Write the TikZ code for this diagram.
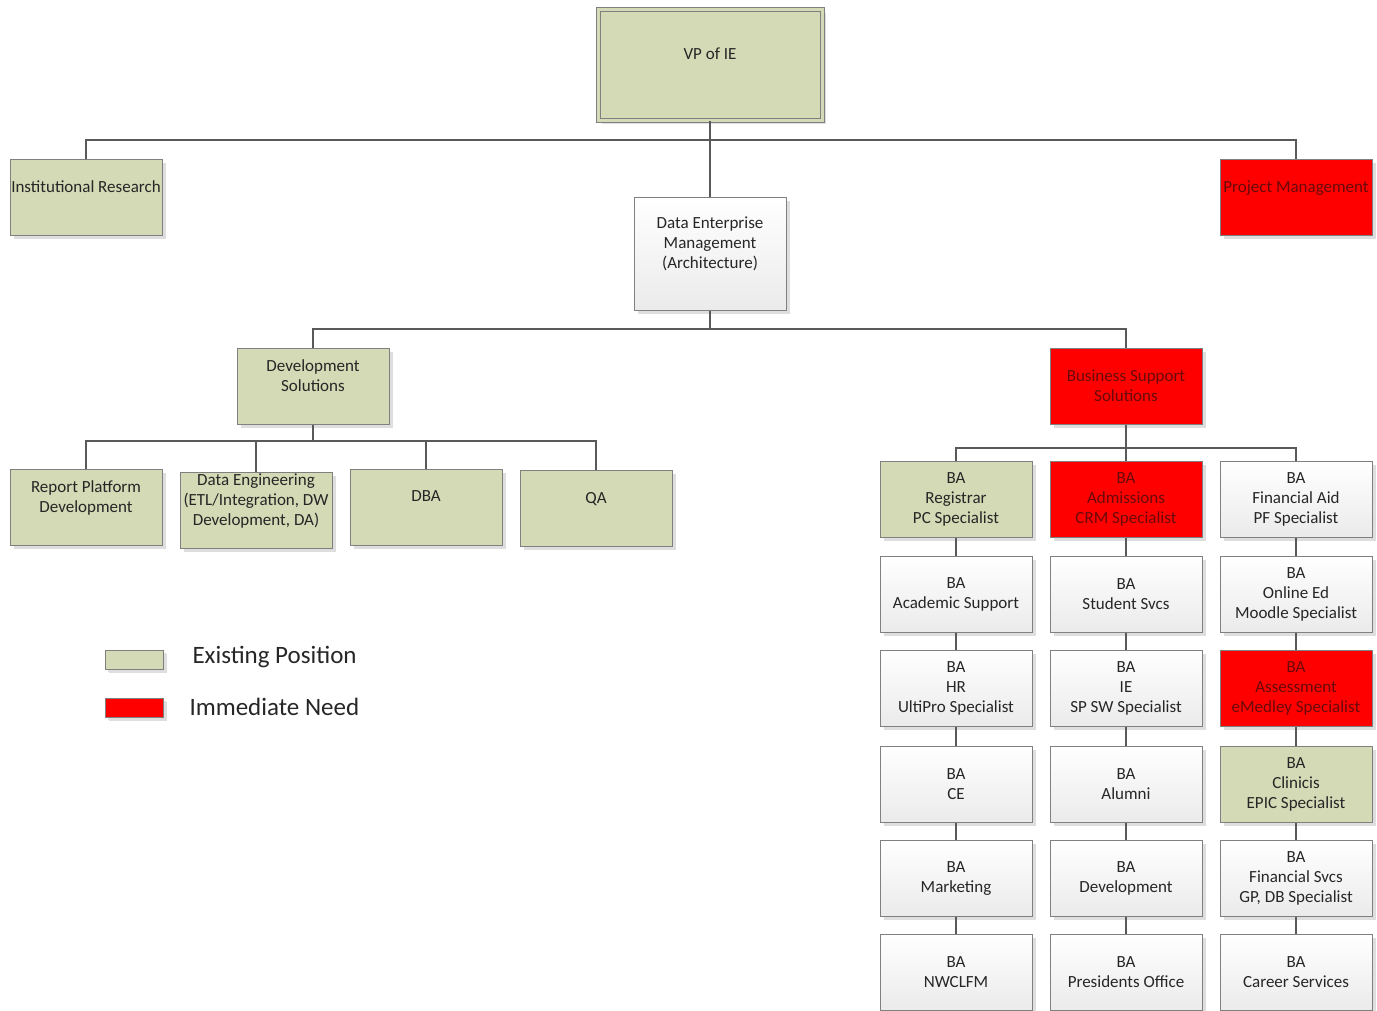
\documentclass[tikz,border=0pt]{standalone}
\usepackage{fontspec}
\setmainfont{Carlito}
\usetikzlibrary{shadows}

\definecolor{cexist}{RGB}{211,218,181}
\definecolor{cneed}{RGB}{255,0,0}
\definecolor{cneedtext}{RGB}{105,10,10}
\definecolor{cline}{RGB}{128,128,128}
\definecolor{cwire}{RGB}{89,89,89}
\definecolor{ctext}{RGB}{38,38,38}

\tikzset{
  post/.style={draw=cline, line width=1pt, minimum width=152pt, minimum height=76pt,
    align=center, inner sep=1pt, text=ctext, font=\fontsize{17}{20}\selectfont,
    drop shadow={shadow xshift=4pt, shadow yshift=-4pt, fill=black!13, opacity=1}},
  exist/.style={post, fill=cexist},
  urgent/.style={post, fill=cneed, text=cneedtext},
  vacant/.style={post, top color=white, bottom color=black!8},
  lifted/.style={text depth=21pt},
  wire/.style={draw=cwire, line width=1.5pt},
  keytext/.style={right, text=ctext, font=\fontsize{25}{30}\selectfont}
}

\begin{document}
\begin{tikzpicture}[x=1pt,y=-1pt]
\useasboundingbox (0,0) rectangle (1377,1010);

% top levels
\node[exist, lifted, double=cexist, double distance=3pt, minimum width=224pt, minimum height=111pt] (vp) at (710,64.5) {VP of IE};
\node[exist, lifted] (ir) at (86,197) {Institutional Research};
\node[urgent, lifted] (pm) at (1296,197) {Project Management};
\node[vacant, lifted, minimum height=113pt] (dem) at (710,253.5) {Data Enterprise\\Management\\(Architecture)};
\node[exist, lifted] (ds) at (313,386) {Development\\Solutions};
\node[urgent] (bss) at (1126,386) {Business Support\\Solutions};

% development solutions
\node[exist, lifted] (rp) at (86,507) {Report Platform\\Development};
\node[exist, lifted] (de) at (256,510) {Data Engineering\\(ETL/Integration, DW\\Development, DA)};
\node[exist, lifted] (dba) at (426,507) {DBA};
\node[exist, lifted] (qa) at (596,508) {QA};

% business support solutions
\node[exist] (a1) at (956,499) {BA\\Registrar\\PC Specialist};
\node[vacant] (a2) at (956,594) {BA\\Academic Support};
\node[vacant] (a3) at (956,688) {BA\\HR\\UltiPro Specialist};
\node[vacant] (a4) at (956,784) {BA\\CE};
\node[vacant] (a5) at (956,878) {BA\\Marketing};
\node[vacant] (a6) at (956,972) {BA\\NWCLFM};

\node[urgent] (b1) at (1126,499) {BA\\Admissions\\CRM Specialist};
\node[vacant] (b2) at (1126,594) {BA\\Student Svcs};
\node[vacant] (b3) at (1126,688) {BA\\IE\\SP SW Specialist};
\node[vacant] (b4) at (1126,784) {BA\\Alumni};
\node[vacant] (b5) at (1126,878) {BA\\Development};
\node[vacant] (b6) at (1126,972) {BA\\Presidents Office};

\node[vacant] (c1) at (1296,499) {BA\\Financial Aid\\PF Specialist};
\node[vacant] (c2) at (1296,594) {BA\\Online Ed\\Moodle Specialist};
\node[urgent] (c3) at (1296,688) {BA\\Assessment\\eMedley Specialist};
\node[exist] (c4) at (1296,784) {BA\\Clinicis\\EPIC Specialist};
\node[vacant] (c5) at (1296,878) {BA\\Financial Svcs\\GP, DB Specialist};
\node[vacant] (c6) at (1296,972) {BA\\Career Services};

% connectors
\coordinate (j1) at (710,140);
\coordinate (j2) at (710,329);
\coordinate (j3) at (313,441);
\coordinate (j4) at (1126,448);

\draw[wire] (vp) -- (dem);
\draw[wire] (ir.north) |- (j1) -| (pm.north);
\draw[wire] (dem) -- (j2);
\draw[wire] (ds.north) |- (j2) -| (bss.north);
\draw[wire] (ds) -- (j3);
\draw[wire] (j3) -| (rp.north);
\draw[wire] (j3) -| (de.north);
\draw[wire] (j3) -| (dba.north);
\draw[wire] (j3) -| (qa.north);
\draw[wire] (bss) -- (j4);
\draw[wire] (j4) -| (a1.north);
\draw[wire] (j4) -- (b1.north);
\draw[wire] (j4) -| (c1.north);
\draw[wire] (a1) -- (a2) -- (a3) -- (a4) -- (a5) -- (a6);
\draw[wire] (b1) -- (b2) -- (b3) -- (b4) -- (b5) -- (b6);
\draw[wire] (c1) -- (c2) -- (c3) -- (c4) -- (c5) -- (c6);

% legend
\node[exist, minimum width=58pt, minimum height=19pt, inner sep=0pt,
  drop shadow={shadow xshift=3pt, shadow yshift=-3pt, fill=black!13, opacity=1}] (kexist) at (134,659.5) {};
\node[keytext] (lexist) at (189,657) {Existing Position};
\node[urgent, minimum width=58pt, minimum height=19pt, inner sep=0pt,
  drop shadow={shadow xshift=3pt, shadow yshift=-3pt, fill=black!13, opacity=1}] (kneed) at (134,707.5) {};
\node[keytext] (lneed) at (186,707) {Immediate Need};

\end{tikzpicture}
\end{document}
